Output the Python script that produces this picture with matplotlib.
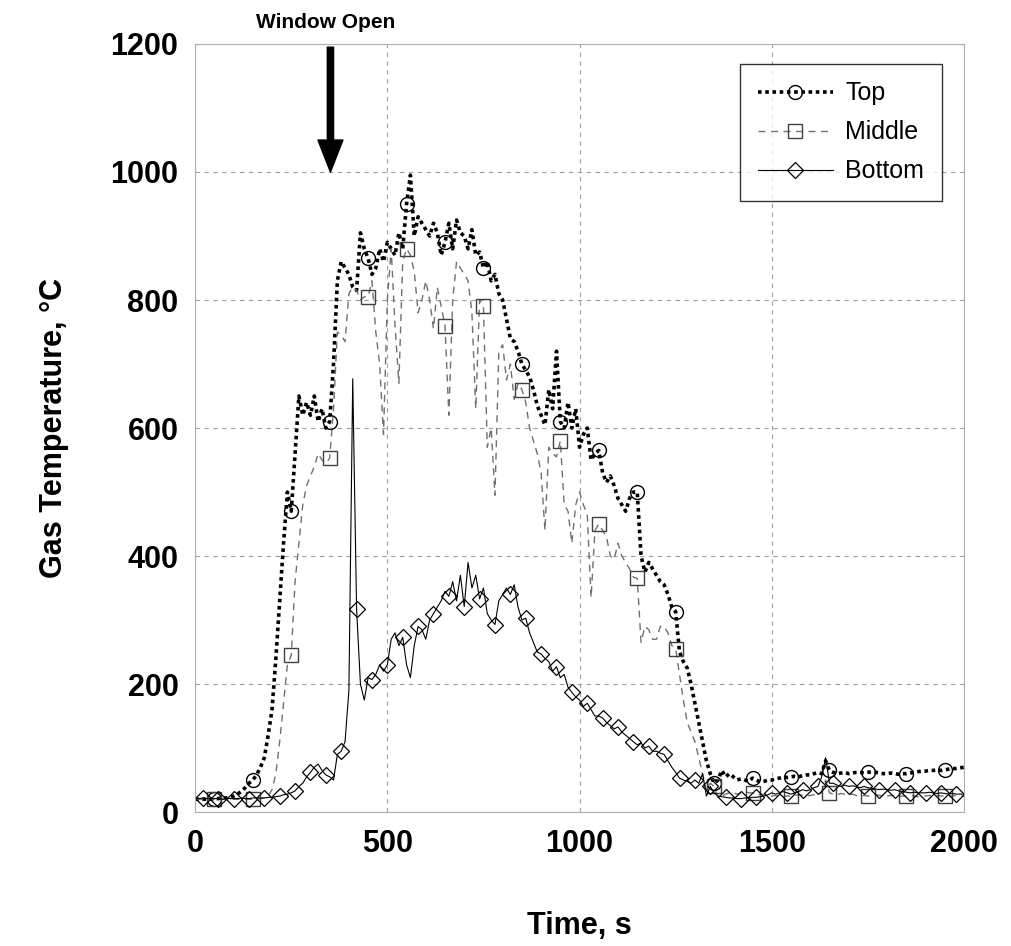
import numpy as np
import matplotlib.pyplot as plt

plt.rcParams['font.family'] = ['Liberation Sans', 'DejaVu Sans']

# time axis, one reading every 10 s
time = np.arange(0, 2001, 10)

top = [20, 20, 20, 20, 20, 21, 21, 22, 22, 23,
       25, 28, 32, 38, 45, 50, 58, 70, 85, 120,
       160, 240, 330, 420, 500, 470, 560, 650, 620, 640,
       620, 650, 610, 630, 600, 610, 700, 830, 860, 850,
       840, 820, 815, 905, 880, 865, 840, 850, 880, 860,
       890, 880, 870, 905, 880, 950, 995, 900, 930, 920,
       910, 900, 920, 905, 870, 890, 920, 880, 925, 905,
       900, 880, 910, 870, 875, 850, 860, 830, 840, 810,
       800, 770, 740, 735, 720, 700, 690, 680, 660, 635,
       620, 605, 660, 630, 720, 610, 600, 640, 600, 630,
       570, 590, 600, 550, 560, 565, 530, 515, 525, 510,
       490, 480, 470, 490, 500, 500, 400, 375, 390, 380,
       370, 360, 355, 340, 320, 313, 250, 235, 225, 200,
       170, 140, 110, 80, 60, 45, 50, 65, 55, 60,
       55, 50, 52, 50, 48, 53, 50, 47, 48, 50,
       50, 52, 53, 55, 54, 55, 56, 55, 57, 58,
       58, 60, 62, 60, 80, 65, 62, 60, 61, 62,
       60, 61, 62, 62, 61, 62, 63, 62, 61, 60,
       60, 61, 60, 59, 60, 60, 61, 62, 63, 64,
       64, 65, 65, 66, 65, 66, 67, 68, 68, 69,
       70]

middle = [20, 20, 20, 20, 20, 20, 20, 20, 20, 20,
          20, 20, 20, 20, 20, 20, 20, 21, 22, 25,
          35, 60, 110, 170, 230, 245, 360, 420, 480, 510,
          525, 540, 560, 550, 545, 553, 630, 750, 745, 735,
          810, 820, 815, 800, 805, 805, 830, 750, 700, 590,
          800, 880, 760, 670, 860, 880, 870, 845, 780, 800,
          830, 800, 755, 820, 790, 760, 620, 800, 860, 850,
          840, 830, 780, 630, 800, 790, 570, 600, 495, 720,
          730, 675, 700, 645, 670, 660, 640, 600, 580, 560,
          530, 440, 570, 560, 555, 580, 480, 470, 420, 480,
          500, 480, 465, 335, 440, 450, 440, 430, 400, 395,
          420, 400, 390, 380, 367, 365, 265, 290, 285, 270,
          270, 290, 290, 280, 260, 255, 215, 175, 140, 125,
          110, 85, 60, 33, 45, 40, 22, 25, 28, 30,
          30, 28, 30, 32, 30, 30, 28, 27, 28, 26,
          25, 26, 25, 24, 25, 25, 26, 27, 26, 25,
          26, 27, 28, 30, 50, 30, 28, 27, 29, 28,
          27, 28, 26, 25, 26, 25, 25, 27, 26, 25,
          25, 26, 25, 24, 25, 25, 26, 25, 24, 25,
          25, 26, 25, 26, 25, 25, 24, 25, 26, 25,
          25]

bottom = [22, 21, 22, 21, 21, 21, 21, 20, 21, 21,
          21, 21, 22, 21, 21, 22, 22, 22, 22, 23,
          23, 24, 25, 27, 28, 30, 33, 40, 45, 55,
          62, 70, 75, 65, 58, 55, 50, 90, 95, 110,
          190, 677, 317, 200, 175, 210, 207, 215, 230, 220,
          230, 270, 280, 260, 273, 230, 210, 260, 290, 285,
          270, 300, 310, 320, 330, 345, 337, 360, 330, 370,
          321, 390, 350, 370, 333, 350, 310, 300, 293, 330,
          340, 350, 340, 355, 320, 300, 303, 280, 265, 250,
          247, 240, 235, 220, 227, 210, 215, 195, 187, 180,
          175, 165, 170, 160, 150, 150, 147, 140, 135, 130,
          133, 125, 120, 115, 110, 105, 108, 100, 103, 95,
          95, 92, 90, 80, 70, 62, 53, 50, 48, 45,
          50, 45, 60, 25, 40, 30, 25, 24, 23, 22,
          22, 21, 21, 22, 22, 23, 23, 24, 25, 27,
          30, 28, 30, 32, 30, 28, 30, 32, 35, 33,
          35, 38, 40, 55, 85, 45, 45, 42, 40, 42,
          40, 41, 40, 38, 40, 38, 37, 36, 35, 36,
          35, 34, 35, 33, 32, 31, 30, 31, 30, 30,
          30, 31, 30, 29, 30, 29, 28, 29, 28, 28,
          28]

fig = plt.figure(figsize=(10.11, 9.46), dpi=100)
ax = fig.add_axes([0.193, 0.1416, 0.7605, 0.8119])

ax.plot(time, top, color='black', lw=2.6, linestyle=(0, (1, 1)),
        marker='o', markevery=(5, 10), ms=10, mfc='none', mec='black', mew=1,
        label='Top')
ax.plot(time, middle, color='#707070', lw=1.0, linestyle=(0, (5, 4)),
        marker='s', markevery=(5, 10), ms=10, mfc='none', mec='#404040', mew=1,
        label='Middle')
ax.plot(time, bottom, color='black', lw=0.8, linestyle='-',
        marker='D', markevery=(2, 4), ms=8.5, mfc='none', mec='black', mew=0.9,
        label='Bottom')

ax.set_xlim(0, 2000)
ax.set_ylim(0, 1200)
ax.set_xticks([0, 500, 1000, 1500, 2000])
ax.set_yticks(range(0, 1201, 200))
ax.grid(True, color='#a0a0a0', linestyle=(0, (4, 4)), lw=0.8)
ax.tick_params(length=0, labelsize=22, pad=12)
for lab in ax.get_xticklabels() + ax.get_yticklabels():
    lab.set_fontweight('bold')
for s in ax.spines.values():
    s.set_color('#b0b0b0')

ax.set_xlabel('Time, s', fontsize=22, fontweight='bold', labelpad=38)
ax.set_ylabel('Gas Temperature, \u00b0C', fontsize=22, fontweight='bold', labelpad=30)

leg = ax.legend(loc='upper right', fontsize=18, frameon=True, fancybox=False,
                edgecolor='black', borderpad=0.7, handlelength=3.0,
                handletextpad=0.5, labelspacing=0.6, borderaxespad=0,
                bbox_to_anchor=(0.971, 0.974))
leg.get_frame().set_linewidth(1.0)

ax.annotate('', xy=(352, 1000), xytext=(352, 1195), annotation_clip=False,
            arrowprops=dict(width=4.5, headwidth=18, headlength=23,
                            facecolor='black', edgecolor='black', shrink=0))
ax.text(340, 1234, 'Window Open', fontsize=15, fontweight='bold',
        ha='center', va='center', clip_on=False)

fig.savefig('out.png', dpi=100)
